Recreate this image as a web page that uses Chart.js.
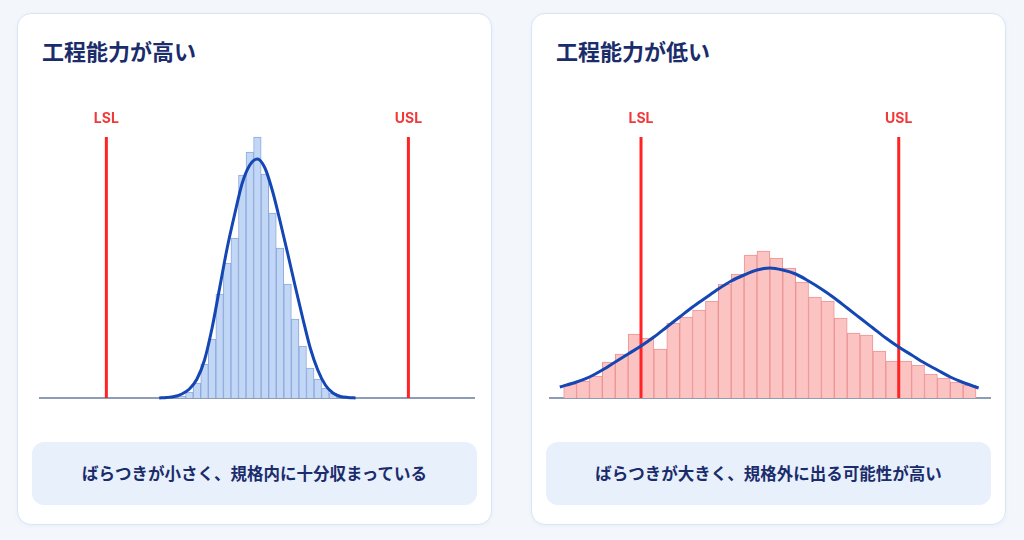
<!DOCTYPE html>
<html lang="ja">
<head>
<meta charset="utf-8">
<title>工程能力の比較</title>
<script src="https://cdn.jsdelivr.net/npm/chart.js@4.4.1/dist/chart.umd.min.js"></script>
<style>
  html, body { margin: 0; padding: 0; }
  body {
    width: 1024px; height: 540px; position: relative; overflow: hidden;
    background: #f3f7fc;
    font-family: "Noto Sans CJK JP", "Noto Sans", sans-serif;
  }
  .card {
    position: absolute; top: 13px; width: 473px; height: 510px;
    background: #fff; border: 1px solid #d9e5f6; border-radius: 14px;
    box-shadow: 0 1px 4px rgba(40, 80, 150, 0.05);
  }
  .title {
    position: absolute; left: 24px; top: 23px; margin: 0;
    font-size: 22px; line-height: 26px; font-weight: 700; color: #1b2c6b;
  }
  .note {
    position: absolute; left: 14px; top: 428px; width: 445px; height: 63px;
    background: #e8f0fc; border-radius: 12px;
    font-size: 16.5px; line-height: 63px; font-weight: 700; color: #1b2c6b;
    text-align: center;
  }
  .plot { position: absolute; top: 84px; height: 304px; }
</style>
</head>
<body>
<div class="card" style="left:17px">
  <h2 class="title">工程能力が高い</h2>
  <div class="plot" style="left:21px;width:436px"><canvas id="chartHigh"></canvas></div>
  <div class="note">ばらつきが小さく、規格内に十分収まっている</div>
</div>
<div class="card" style="left:531px">
  <h2 class="title">工程能力が低い</h2>
  <div class="plot" style="left:17px;width:442px"><canvas id="chartLow"></canvas></div>
  <div class="note">ばらつきが大きく、規格外に出る可能性が高い</div>
</div>

<script>
// spec limits (same for both panels)
const lsl = 40;
const usl = 60;
const limitTop = 130.5;

// high capability: narrow histogram, bin width 0.5
const highBins = [45, 45.5, 46, 46.5, 47, 47.5, 48, 48.5, 49, 49.5, 50, 50.5, 51, 51.5, 52, 52.5, 53, 53.5, 54, 54.5, 55];
const highCounts = [1, 3, 7.5, 17, 29.5, 52, 67.5, 80, 111.5, 123, 130.5, 112, 92.5, 75, 57, 39.5, 26, 15, 9.5, 5, 2.5];
const highCurveX = [43.5, 44, 44.5, 45, 45.5, 46, 46.5, 47, 47.5, 48, 48.5, 49, 49.5, 50, 50.5, 51, 51.5, 52, 52.5, 53, 53.5, 54, 54.5, 55, 55.5, 56, 56.5];
const highCurveY = [0, 0.25, 0.75, 2, 4.5, 9.5, 19, 35, 55, 75, 92, 107.5, 116.5, 119.5, 115, 103.5, 88.5, 72.5, 56, 40, 25, 14, 6.5, 2.5, 0.75, 0.25, 0];

// low capability: wide histogram, bin width 1
const lowBins = [34.5, 35.5, 36.5, 37.5, 38.5, 39.5, 40.5, 41.5, 42.5, 43.5, 44.5, 45.5, 46.5, 47.5, 48.5, 49.5, 50.5, 51.5, 52.5, 53.5, 54.5, 55.5, 56.5, 57.5, 58.5, 59.5, 60.5, 61.5, 62.5, 63.5, 64.5, 65.5];
const lowCounts = [7, 8.5, 11, 18, 22, 32, 30, 24.5, 37.5, 40.5, 44, 48.5, 57, 62, 71.5, 73.5, 70, 65, 58, 50.5, 48.5, 40, 32.5, 31.5, 23.5, 18.5, 18.5, 16.5, 12, 10, 8, 6.5];
const lowCurveX = [33.7, 35, 36, 37, 38, 39, 40, 41, 42, 43, 44, 45, 46, 47, 48, 49, 50, 51, 52, 53, 54, 55, 56, 57, 58, 59, 60, 61, 62, 63, 64, 65, 66.2];
const lowCurveY = [5.5, 8, 10.5, 14, 18, 22, 26, 30.5, 35.5, 40.5, 45.5, 50, 54.5, 58.5, 61.5, 64, 65, 64, 62, 58.5, 54.5, 50, 45, 40, 35, 30, 25.5, 21.5, 17.5, 14, 10.5, 7.75, 5];

const limitLabels = {
  id: 'limitLabels',
  beforeDatasetsDraw(chart) {
    const { ctx, scales: { x, y } } = chart;
    // baseline
    ctx.save();
    ctx.strokeStyle = '#8e9cb6';
    ctx.lineWidth = 2;
    ctx.beginPath();
    ctx.moveTo(x.left, y.getPixelForValue(0));
    ctx.lineTo(x.right, y.getPixelForValue(0));
    ctx.stroke();
    ctx.restore();
  },
  afterDatasetsDraw(chart) {
    const { ctx, scales: { x, y } } = chart;
    ctx.save();
    ctx.fillStyle = '#f03a3a';
    ctx.font = '700 14px Inter, "Noto Sans", sans-serif';
    ctx.textAlign = 'center';
    ctx.textBaseline = 'middle';
    ctx.fillText('LSL', x.getPixelForValue(lsl), y.getPixelForValue(limitTop) - 18);
    ctx.fillText('USL', x.getPixelForValue(usl), y.getPixelForValue(limitTop) - 18);
    ctx.restore();
  }
};

function makeChart(id, bins, counts, curveX, curveY, fill, border, xMin, xMax) {
  const bars = bins.map((b, i) => ({ x: b, y: counts[i] }));
  const curve = curveX.map((v, i) => ({ x: v, y: curveY[i] }));
  const limitLine = v => [{ x: v, y: 0 }, { x: v, y: limitTop }];
  return new Chart(document.getElementById(id), {
    type: 'bar',
    data: {
      datasets: [
        {
          type: 'line', data: curve, borderColor: '#1446b4', borderWidth: 3,
          pointRadius: 0, tension: 0.4, cubicInterpolationMode: 'monotone', clip: false, order: 1
        },
        { type: 'line', data: limitLine(lsl), borderColor: '#ff2323', borderWidth: 3, pointRadius: 0, clip: false, order: 2 },
        { type: 'line', data: limitLine(usl), borderColor: '#ff2323', borderWidth: 3, pointRadius: 0, clip: false, order: 2 },
        {
          data: bars, backgroundColor: fill, borderColor: border, borderWidth: 1,
          barPercentage: 1, categoryPercentage: 1, order: 3
        }
      ]
    },
    options: {
      responsive: true,
      maintainAspectRatio: false,
      animation: false,
      layout: { padding: { top: 0, bottom: 4, left: 0, right: 0 } },
      plugins: { legend: { display: false }, tooltip: { enabled: false } },
      scales: {
        x: { type: 'linear', min: xMin, max: xMax, offset: false, display: false },
        y: { min: 0, max: 150, display: false }
      }
    },
    plugins: [limitLabels]
  });
}

makeChart('chartHigh', highBins, highCounts, highCurveX, highCurveY,
  '#c2d6f6', '#8eaadb', 35.54, 64.41);
makeChart('chartLow', lowBins, lowCounts, lowCurveX, lowCurveY,
  '#fcc3c3', '#ec9494', 32.86, 67.16);
</script>
</body>
</html>
